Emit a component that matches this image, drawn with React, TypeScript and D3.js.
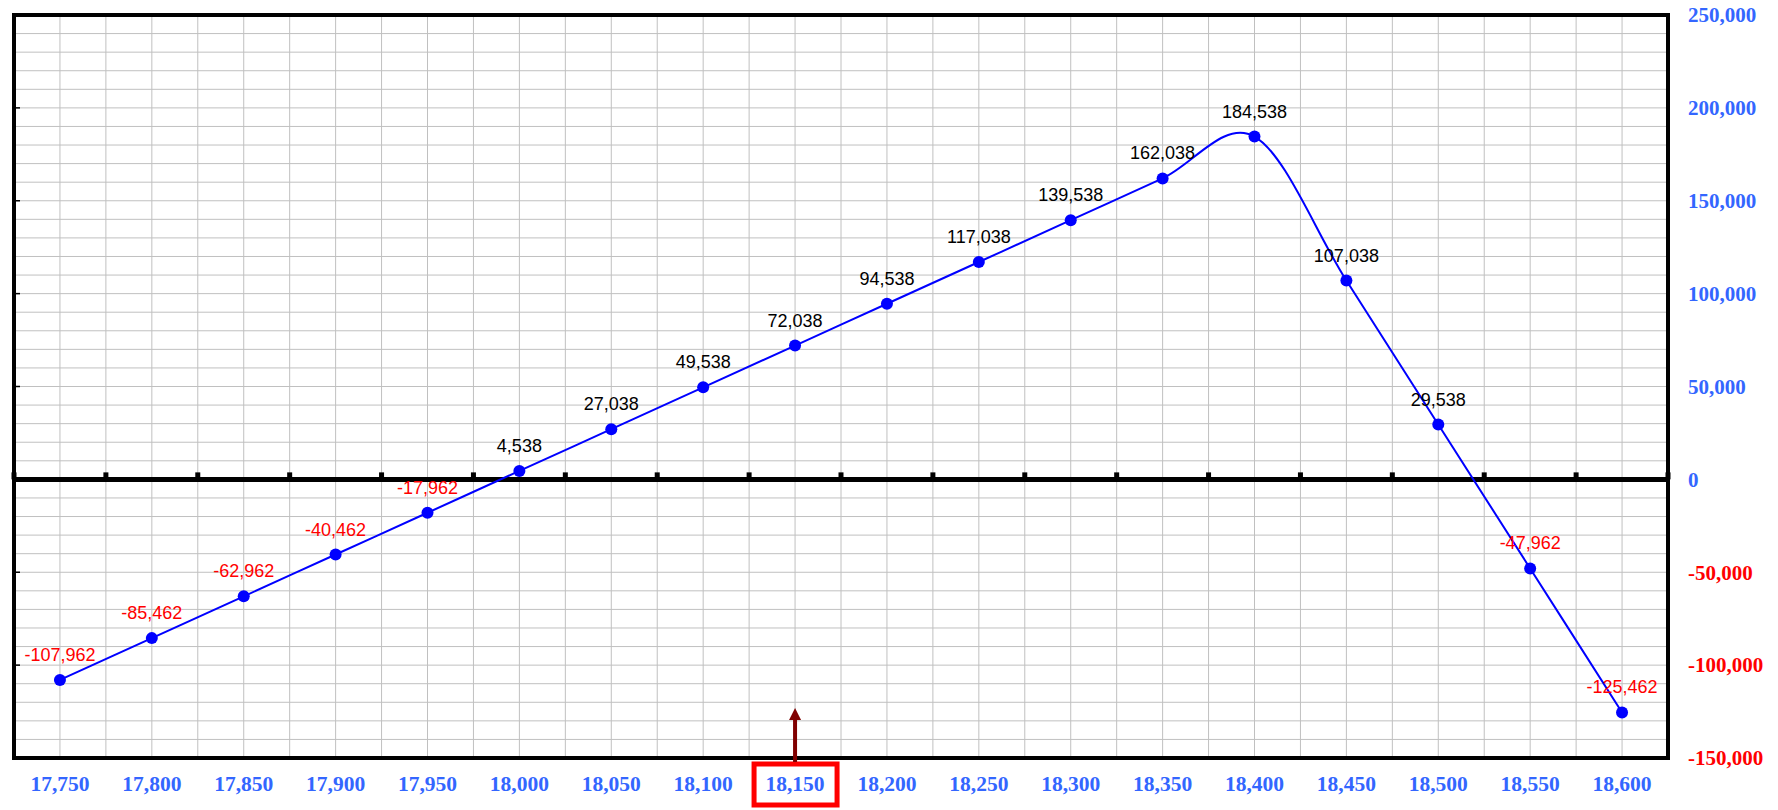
import React from "react";
import * as d3 from "d3";

const strikes: number[] = [17750, 17800, 17850, 17900, 17950, 18000, 18050, 18100, 18150, 18200, 18250, 18300, 18350, 18400, 18450, 18500, 18550, 18600];
const payoff: number[] = [-107962, -85462, -62962, -40462, -17962, 4538, 27038, 49538, 72038, 94538, 117038, 139538, 162038, 184538, 107038, 29538, -47962, -125462];
const yTicks: number[] = [250000, 200000, 150000, 100000, 50000, 0, -50000, -100000, -150000];
const highlightStrike = 18150;

const W = 1778;
const H = 810;
const L = 14, R = 1668, T = 15, B = 758;

const locale = d3.formatLocale({ decimal: ".", thousands: ",", grouping: [3], currency: ["", ""], minus: "-" });
const fmt = locale.format(",");

export default function App() {
  const x = d3.scaleLinear().domain([17725, 18625]).range([L, R]);
  const y = d3.scaleLinear().domain([-150000, 250000]).range([B, T]);

  const vGrid = d3.range(17750, 18625, 25);
  const hGrid = d3.range(-140000, 250000, 10000);
  const zeroTicks = d3.range(17725, 18626, 50);

  const pts: [number, number][] = strikes.map((s, i) => [x(s), y(payoff[i])]);
  const line = d3.line().curve(d3.curveCardinal.tension(0))(pts) || "";

  const hx = x(highlightStrike);

  return (
    <svg width={W} height={H} style={{ position: "absolute", left: 0, top: 0, display: "block", background: "#fff" }}>
      {vGrid.map((v) => (
        <line key={"v" + v} x1={x(v)} x2={x(v)} y1={T} y2={B} stroke="#c0c0c0" strokeWidth={1} />
      ))}
      {hGrid.map((v) => (
        <line key={"h" + v} x1={L} x2={R} y1={y(v)} y2={y(v)} stroke="#c0c0c0" strokeWidth={1} />
      ))}
      {yTicks.map((v) => (
        <line key={"lt" + v} x1={L} x2={L + 6} y1={y(v)} y2={y(v)} stroke="#000" strokeWidth={1.5} />
      ))}
      <rect x={L} y={T} width={R - L} height={B - T} fill="none" stroke="#000" strokeWidth={4} />
      <line x1={L} x2={R} y1={y(0)} y2={y(0)} stroke="#000" strokeWidth={5} />
      {zeroTicks.map((v) => (
        <rect key={"zt" + v} x={x(v) - 2.5} y={y(0) - 7} width={5} height={7} fill="#000" />
      ))}
      <path d={line} fill="none" stroke="#0000ff" strokeWidth={2} />
      {pts.map((p, i) => (
        <circle key={"c" + i} cx={p[0]} cy={p[1]} r={6} fill="#0000ff" />
      ))}
      {pts.map((p, i) => (
        <text
          key={"dl" + i}
          x={p[0]}
          y={p[1] - 19}
          textAnchor="middle"
          fontFamily="'Liberation Sans', Arial, sans-serif"
          fontSize={18}
          fill={payoff[i] < 0 ? "#ff0000" : "#000000"}
        >
          {fmt(payoff[i])}
        </text>
      ))}
      {strikes.map((s) => (
        <text
          key={"xl" + s}
          x={x(s)}
          y={783}
          dy="0.35em"
          textAnchor="middle"
          fontFamily="'Liberation Serif', 'Times New Roman', serif"
          fontWeight="bold"
          fontSize={21.5}
          fill="#3366ff"
        >
          {fmt(s)}
        </text>
      ))}
      {yTicks.map((v) => (
        <text
          key={"yl" + v}
          x={1688}
          y={y(v)}
          dy="0.35em"
          textAnchor="start"
          fontFamily="'Liberation Serif', 'Times New Roman', serif"
          fontWeight="bold"
          fontSize={21}
          fill={v < 0 ? "#ff0000" : "#3366ff"}
        >
          {fmt(v)}
        </text>
      ))}
      <rect x={hx - 41} y={764} width={83} height={41} fill="none" stroke="#ff0000" strokeWidth={5} />
      <line x1={hx} x2={hx} y1={762} y2={718} stroke="#800000" strokeWidth={4} />
      <path d={`M${hx - 6},${720} L${hx + 6},${720} L${hx},${708} Z`} fill="#800000" />
    </svg>
  );
}
